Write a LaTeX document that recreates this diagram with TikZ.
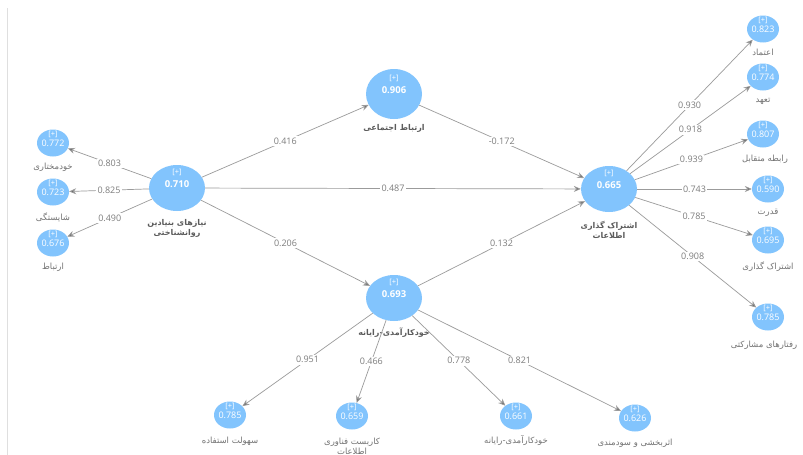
\documentclass[tikz,border=0pt]{standalone}
\usepackage{fontspec}
\setmainfont{Open Sans}
\newfontfamily\fa[Script=Arabic]{DejaVu Sans}
\TeXXeTstate=1
\usetikzlibrary{shapes.geometric,arrows.meta}
\definecolor{lblue}{RGB}{130,196,253}
\definecolor{txtgray}{RGB}{115,115,115}
\definecolor{wgray}{RGB}{125,125,125}
\definecolor{egray}{RGB}{155,155,155}
\definecolor{tipgray}{RGB}{110,110,110}
\begin{document}
\begin{tikzpicture}[x=1pt,y=-1pt,
 lat/.style={ellipse,fill=lblue,minimum width=56pt,minimum height=46pt,inner sep=0pt},
 ind/.style={ellipse,fill=lblue,minimum width=32pt,minimum height=27pt,inner sep=0pt},
 plus/.style={text=white,font=\fontsize{7.5}{8}\selectfont,inner sep=0pt},
 latval/.style={text=white,font=\bfseries\fontsize{9.5}{10}\selectfont,inner sep=0pt},
 indval/.style={text=white,font=\fontsize{9}{10}\selectfont,inner sep=0pt},
 lbl/.style={text=txtgray,font=\fa\fontsize{8.5}{10}\selectfont,inner sep=0pt,align=center},
 latlbl/.style={text=txtgray!80!black,font=\fa\bfseries\fontsize{8}{10}\selectfont,inner sep=0pt,align=center},
 edge/.style={draw=egray,line width=0.7pt,-{Stealth[length=7pt,width=6pt,fill=tipgray]}},
 wt/.style={fill=white,text=wgray,font=\fontsize{9}{10}\selectfont,inner sep=1.5pt}]
\useasboundingbox (0,0) rectangle (803,455);
\fill[white] (0,0) rectangle (803,455);
\draw[gray!25,line width=0.8pt] (7,8) -- (7,455);

% latent variables
\node[lat] (pn) at (177,188) {};
\node[lat,minimum height=50pt] (se) at (394,94) {};
\node[lat] (ks) at (609,189) {};
\node[lat] (ce) at (394,298) {};
\foreach \n/\v in {pn/0.710,se/0.906,ks/0.665,ce/0.693}{
  \node[plus] at ([yshift=16pt]\n.center) {[+]};
  \node[latval] at ([yshift=4pt]\n.center) {\v};
}
\node[latlbl] (pnl) at ([yshift=-40pt]pn.center) {\beginR نیازهای بنیادین\endR\\\beginR روانشناختی\endR};
\node[latlbl] (sel) at ([yshift=-34pt]se.center) {\beginR ارتباط اجتماعی\endR};
\node[latlbl] (ksl) at ([yshift=-41pt]ks.center) {\beginR اشتراک گذاری\endR\\\beginR اطلاعات\endR};
\node[latlbl] (cel) at ([yshift=-35pt]ce.center) {\beginR خودکارآمدی-رایانه\endR};

% indicators
\node[ind] (a1) at (53,143) {};
\node[ind] (a2) at (53,192) {};
\node[ind] (a3) at (53,243) {};
\node[ind] (r1) at (763,29) {};
\node[ind] (r2) at (763,77) {};
\node[ind] (r3) at (763,134) {};
\node[ind] (r4) at (768,189) {};
\node[ind] (r5) at (768,240) {};
\node[ind] (r6) at (768,317) {};
\node[ind] (b1) at (230,415) {};
\node[ind] (b2) at (352,416) {};
\node[ind] (b3) at (516,416) {};
\node[ind] (b4) at (635,418) {};
\foreach \n/\v in {a1/0.772,a2/0.723,a3/0.676,r1/0.823,r2/0.774,r3/0.807,r4/0.590,r5/0.695,r6/0.785,b1/0.785,b2/0.659,b3/0.661,b4/0.626}{
  \node[plus] at ([yshift=9pt]\n.center) {[+]};
  \node[indval] at ([yshift=0pt]\n.center) {\v};
}
\node[lbl] (a1l) at ([yshift=-24pt]a1.center) {\beginR خودمختاری\endR};
\node[lbl] (a2l) at ([yshift=-25pt]a2.center) {\beginR شایستگی\endR};
\node[lbl] (a3l) at ([yshift=-24pt]a3.center) {\beginR ارتباط\endR};
\node[lbl] (r1l) at ([yshift=-23pt]r1.center) {\beginR اعتماد\endR};
\node[lbl] (r2l) at ([yshift=-24pt]r2.center) {\beginR تعهد\endR};
\node[lbl] (r3l) at ([yshift=-25pt,xshift=2pt]r3.center) {\beginR رابطه متقابل\endR};
\node[lbl] (r4l) at ([yshift=-24pt]r4.center) {\beginR قدرت\endR};
\node[lbl] (r5l) at ([yshift=-27pt]r5.center) {\beginR اشتراک گذاری\endR};
\node[lbl] (r6l) at ([yshift=-28pt,xshift=-4pt]r6.center) {\beginR رفتارهای مشارکتی\endR};
\node[lbl] (b1l) at ([yshift=-26pt]b1.center) {\beginR سهولت استفاده\endR};
\node[lbl] (b2l) at ([yshift=-30pt]b2.center) {\beginR کاربست فناوری\endR\\\beginR اطلاعات\endR};
\node[lbl] (b3l) at ([yshift=-25pt]b3.center) {\beginR خودکارآمدی-رایانه\endR};
\node[lbl] (b4l) at ([yshift=-25pt]b4.center) {\beginR اثربخشی و سودمندی\endR};

% outer model
\draw[edge] (pn) -- node[wt]{0.803} (a1);
\draw[edge] (pn) -- node[wt]{0.825} (a2);
\draw[edge] (pn) -- node[wt]{0.490} (a3);
\draw[edge] (ks) -- node[wt]{0.930} (r1);
\draw[edge] (ks) -- node[wt]{0.918} (r2);
\draw[edge] (ks) -- node[wt]{0.939} (r3);
\draw[edge] (ks) -- node[wt]{0.743} (r4);
\draw[edge] (ks) -- node[wt]{0.785} (r5);
\draw[edge] (ks) -- node[wt]{0.908} (r6);
\draw[edge] (ce) -- node[wt]{0.951} (b1);
\draw[edge] (ce) -- node[wt]{0.466} (b2);
\draw[edge] (ce) -- node[wt]{0.778} (b3);
\draw[edge] (ce) -- node[wt]{0.821} (b4);

% inner model
\draw[edge] (pn) -- node[wt]{0.416} (se);
\draw[edge] (pn) -- node[wt]{0.487} (ks);
\draw[edge] (pn) -- node[wt]{0.206} (ce);
\draw[edge] (se) -- node[wt]{-0.172} (ks);
\draw[edge] (ce) -- node[wt]{0.132} (ks);
\end{tikzpicture}
\end{document}
